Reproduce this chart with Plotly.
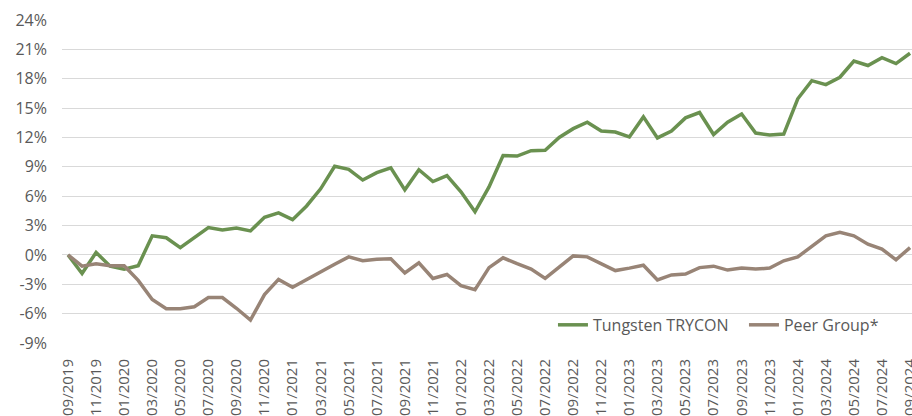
import plotly.graph_objects as go

months = [
    "09/2019", "10/2019", "11/2019", "12/2019",
    "01/2020", "02/2020", "03/2020", "04/2020", "05/2020", "06/2020",
    "07/2020", "08/2020", "09/2020", "10/2020", "11/2020", "12/2020",
    "01/2021", "02/2021", "03/2021", "04/2021", "05/2021", "06/2021",
    "07/2021", "08/2021", "09/2021", "10/2021", "11/2021", "12/2021",
    "01/2022", "02/2022", "03/2022", "04/2022", "05/2022", "06/2022",
    "07/2022", "08/2022", "09/2022", "10/2022", "11/2022", "12/2022",
    "01/2023", "02/2023", "03/2023", "04/2023", "05/2023", "06/2023",
    "07/2023", "08/2023", "09/2023", "10/2023", "11/2023", "12/2023",
    "01/2024", "02/2024", "03/2024", "04/2024", "05/2024", "06/2024",
    "07/2024", "08/2024", "09/2024",
]

tungsten_trycon = [
    0.0, -1.9, 0.25, -1.15, -1.45, -1.1, 1.95, 1.75, 0.75, 1.75,
    2.8, 2.55, 2.75, 2.45, 3.85, 4.3, 3.6, 5.0, 6.75, 9.05,
    8.75, 7.65, 8.4, 8.9, 6.65, 8.7, 7.5, 8.1, 6.45, 4.4,
    6.95, 10.15, 10.1, 10.65, 10.7, 12.0, 12.9, 13.55, 12.65, 12.55,
    12.05, 14.1, 11.95, 12.65, 14.0, 14.55, 12.3, 13.55, 14.4, 12.45,
    12.25, 12.35, 15.95, 17.8, 17.4, 18.15, 19.8, 19.35, 20.15, 19.55,
    20.6,
]

peer_group = [
    0.0, -1.15, -0.9, -1.1, -1.1, -2.6, -4.55, -5.5, -5.5, -5.3,
    -4.35, -4.35, -5.45, -6.65, -4.05, -2.5, -3.3, -2.5, -1.65, -0.95,
    -0.2, -0.6, -0.45, -0.4, -1.85, -0.8, -2.4, -2.0, -3.15, -3.55,
    -1.3, -0.3, -0.9, -1.45, -2.4, -1.3, -0.1, -0.2, -0.95, -1.6,
    -1.35, -1.05, -2.55, -2.05, -1.95, -1.3, -1.15, -1.55, -1.35, -1.45,
    -1.35, -0.6, -0.2, 0.9, 1.95, 2.3, 1.95, 1.1, 0.6, -0.5,
    0.75,
]

x_tick_labels = months[::2]
y_tick_values = [-9, -6, -3, 0, 3, 6, 9, 12, 15, 18, 21, 24]
y_tick_labels = [f"{v}%" for v in y_tick_values]

GREEN = "#6A9150"
BROWN = "#988476"
TEXT = "#595959"
FONT = "Open Sans"

fig = go.Figure()
fig.add_trace(go.Scatter(
    x=months, y=tungsten_trycon, mode="lines", name="Tungsten TRYCON",
    line=dict(color=GREEN, width=3.5), hoverinfo="skip",
))
fig.add_trace(go.Scatter(
    x=months, y=peer_group, mode="lines", name="Peer Group*",
    line=dict(color=BROWN, width=3.5), hoverinfo="skip",
))

fig.update_layout(
    width=912, height=416,
    margin=dict(l=62, r=0, t=20, b=73, autoexpand=False),
    paper_bgcolor="white", plot_bgcolor="white",
    font=dict(family=FONT, size=16, color=TEXT),
    showlegend=True,
    legend=dict(
        orientation="h", x=0.5776, xanchor="left", y=0.056, yanchor="middle",
        bgcolor="rgba(0,0,0,0)", font=dict(family=FONT, size=16, color=TEXT),
        itemwidth=30, entrywidth=146, entrywidthmode="pixels",
    ),
)

fig.update_xaxes(
    type="category", range=[-0.43, 60.14], automargin=False,
    tickmode="array", tickvals=x_tick_labels, ticktext=x_tick_labels,
    tickangle=-90, showgrid=False, zeroline=False, showline=False,
    ticks="", ticklabelstandoff=12,
    tickfont=dict(family=FONT, size=15, color=TEXT),
)
fig.update_yaxes(
    range=[-9, 24], tickmode="array", tickvals=y_tick_values, ticktext=y_tick_labels,
    automargin=False,
    showgrid=True, gridcolor="#D9D9D9", gridwidth=1.3, zeroline=False, showline=False,
    ticks="", ticklabelstandoff=14,
    tickfont=dict(family=FONT, size=16, color=TEXT),
)

fig.write_html(
    "out.html",
    config={"displayModeBar": False},
    post_script="document.body.style.margin='0';document.body.style.overflow='hidden';",
)
